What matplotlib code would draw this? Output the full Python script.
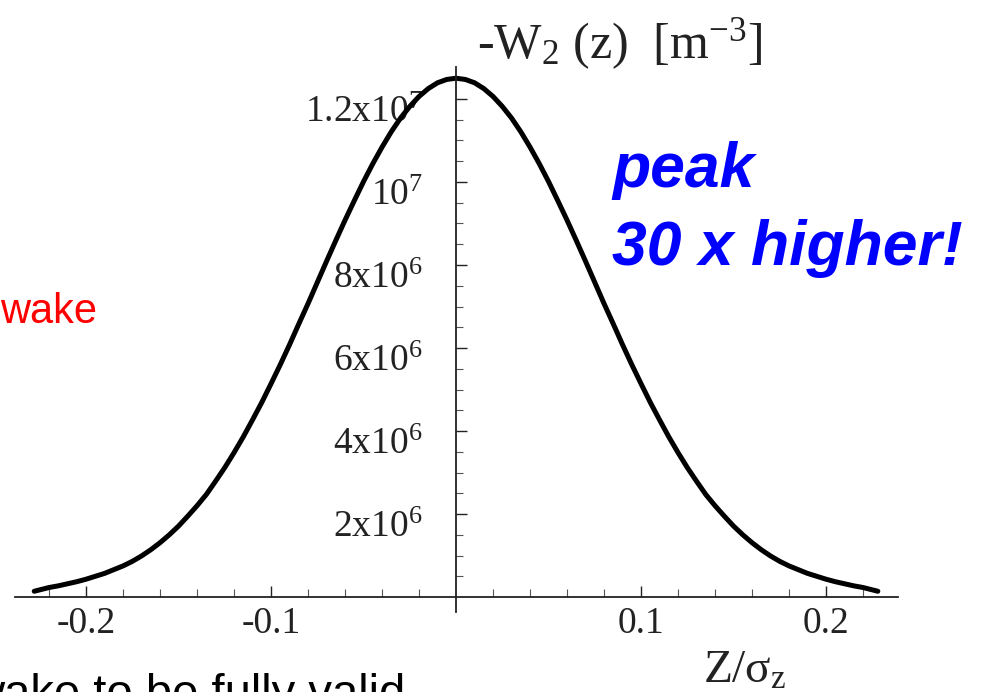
from matplotlib import pyplot as plt
from matplotlib.ticker import FixedLocator
import matplotlib.transforms as mtransforms

plt.rcParams['font.family'] = 'Liberation Serif'
plt.rcParams['mathtext.fontset'] = 'custom'
plt.rcParams['mathtext.rm'] = 'Liberation Serif'
plt.rcParams['mathtext.it'] = 'Liberation Serif:italic'

# wake curve, z/sigma_z vs -W2 (units of 1e6 m^-3)
z = [-0.228, -0.22, -0.215, -0.21, -0.205, -0.20, -0.195, -0.19, -0.185, -0.18, -0.175,
     -0.17, -0.165, -0.16, -0.155, -0.15, -0.145, -0.14, -0.135, -0.13, -0.125, -0.12,
     -0.115, -0.11, -0.105, -0.10, -0.095, -0.09, -0.085, -0.08, -0.075, -0.07, -0.065,
     -0.06, -0.055, -0.05, -0.045, -0.04, -0.035, -0.03, -0.025, -0.02, -0.015, -0.01,
     -0.005, 0.0,
     0.005, 0.01, 0.015, 0.02, 0.025, 0.03, 0.035, 0.04, 0.045, 0.05, 0.055,
     0.06, 0.065, 0.07, 0.075, 0.08, 0.085, 0.09, 0.095, 0.10, 0.105, 0.11,
     0.115, 0.12, 0.125, 0.13, 0.135, 0.14, 0.145, 0.15, 0.155, 0.16, 0.165,
     0.17, 0.175, 0.18, 0.185, 0.19, 0.195, 0.20, 0.205, 0.21, 0.215, 0.22, 0.228]
w2 = [0.14, 0.23, 0.27, 0.32, 0.37, 0.43, 0.50, 0.57, 0.66, 0.75, 0.86,
      0.99, 1.14, 1.31, 1.50, 1.71, 1.95, 2.20, 2.47, 2.79, 3.12, 3.48,
      3.86, 4.27, 4.69, 5.14, 5.60, 6.08, 6.58, 7.07, 7.58, 8.09, 8.59,
      9.08, 9.55, 10.01, 10.44, 10.84, 11.21, 11.54, 11.82, 12.06, 12.25, 12.39,
      12.47, 12.50,
      12.47, 12.39, 12.25, 12.06, 11.82, 11.54, 11.21, 10.84, 10.44, 10.01, 9.55,
      9.08, 8.59, 8.09, 7.58, 7.07, 6.58, 6.08, 5.60, 5.14, 4.69, 4.27,
      3.86, 3.48, 3.12, 2.79, 2.47, 2.20, 1.95, 1.71, 1.50, 1.31, 1.14,
      0.99, 0.86, 0.75, 0.66, 0.57, 0.50, 0.43, 0.37, 0.32, 0.27, 0.23, 0.14]

xticks = [-0.2, -0.1, 0.1, 0.2]
xtick_labels = ['-0.2', '-0.1', '0.1', '0.2']
yticks = [2e6, 4e6, 6e6, 8e6, 1e7, 1.2e7]
ytick_labels = [r'2x10$^{\mathrm{6}}$', r'4x10$^{\mathrm{6}}$', r'6x10$^{\mathrm{6}}$',
                r'8x10$^{\mathrm{6}}$', r'10$^{\mathrm{7}}$', r'1.2x10$^{\mathrm{7}}$']

W, H = 982, 692
serif = 'Liberation Serif'
sans = 'Liberation Sans'

def px(x, y):
    # pixel position (from top-left) -> figure fraction
    return x / W, 1 - y / H

fig = plt.figure(figsize=(W / 100, H / 100), dpi=100)
ax = fig.add_axes([15 / W, 1 - 612 / H, 883 / W, 545 / H])

ax.plot(z, [v * 1e6 for v in w2], color='black', lw=3.6, solid_capstyle='round', solid_joinstyle='round')

ax.set_xlim(-0.2384, 0.2389)
ax.set_ylim(-0.36e6, 12.77e6)

ax.spines['left'].set_position(('data', 0))
ax.spines['bottom'].set_position(('data', 0))
ax.spines['top'].set_visible(False)
ax.spines['right'].set_visible(False)
for s in ['left', 'bottom']:
    ax.spines[s].set_color('#222222')
    ax.spines[s].set_linewidth(1.3)

ax.set_xticks(xticks)
ax.set_xticklabels(xtick_labels, family=serif, fontsize=27)
ax.xaxis.set_minor_locator(FixedLocator([k * 0.02 for k in range(-11, 12) if k != 0]))
ax.set_yticks(yticks)
ax.set_yticklabels(ytick_labels, family=serif, fontsize=27, va='baseline')
ax.yaxis.set_minor_locator(FixedLocator([k * 5e5 for k in range(1, 26)]))

ax.tick_params(axis='x', which='major', direction='in', length=8, width=1.0, pad=7, colors='#222222')
ax.tick_params(axis='x', which='minor', direction='in', length=6, width=0.8, colors='#555555')
ax.tick_params(axis='y', which='major', direction='in', length=8, width=1.0, pad=24, colors='#222222')
ax.tick_params(axis='y', which='minor', direction='in', length=5, width=0.8, colors='#555555')

# y labels sit a bit below their ticks in the original
shift = mtransforms.ScaledTranslation(0, -23 / 100, fig.dpi_scale_trans)
for lab in ax.get_yticklabels():
    lab.set_transform(lab.get_transform() + shift)

# axis titles
fig.text(*px(477, 58), r'-W$_{\mathrm{2}}$ (z)  [m$^{\mathrm{-3}}$]', family=serif,
         fontsize=36, color='#222222', ha='left', va='baseline')
fig.text(*px(703, 683), r'Z/σ$_{\mathrm{z}}$', family=serif, fontsize=34,
         color='#222222', ha='left', va='baseline')

# slide annotations
fig.text(*px(612, 187), 'peak', family=sans, fontsize=45, fontweight='bold', fontstyle='italic',
         color='#0000FF', ha='left', va='baseline')
fig.text(*px(612, 265), '30 x higher!', family=sans, fontsize=45, fontweight='bold', fontstyle='italic',
         color='#0000FF', ha='left', va='baseline')
fig.text(*px(97, 323), 'wake', family=sans, fontsize=30, color='#FF0000', ha='right', va='baseline')
fig.text(*px(405, 707), 'wake to be fully valid', family=sans, fontsize=34, color='black',
         ha='right', va='baseline')

fig.savefig('out.png', dpi=100)
